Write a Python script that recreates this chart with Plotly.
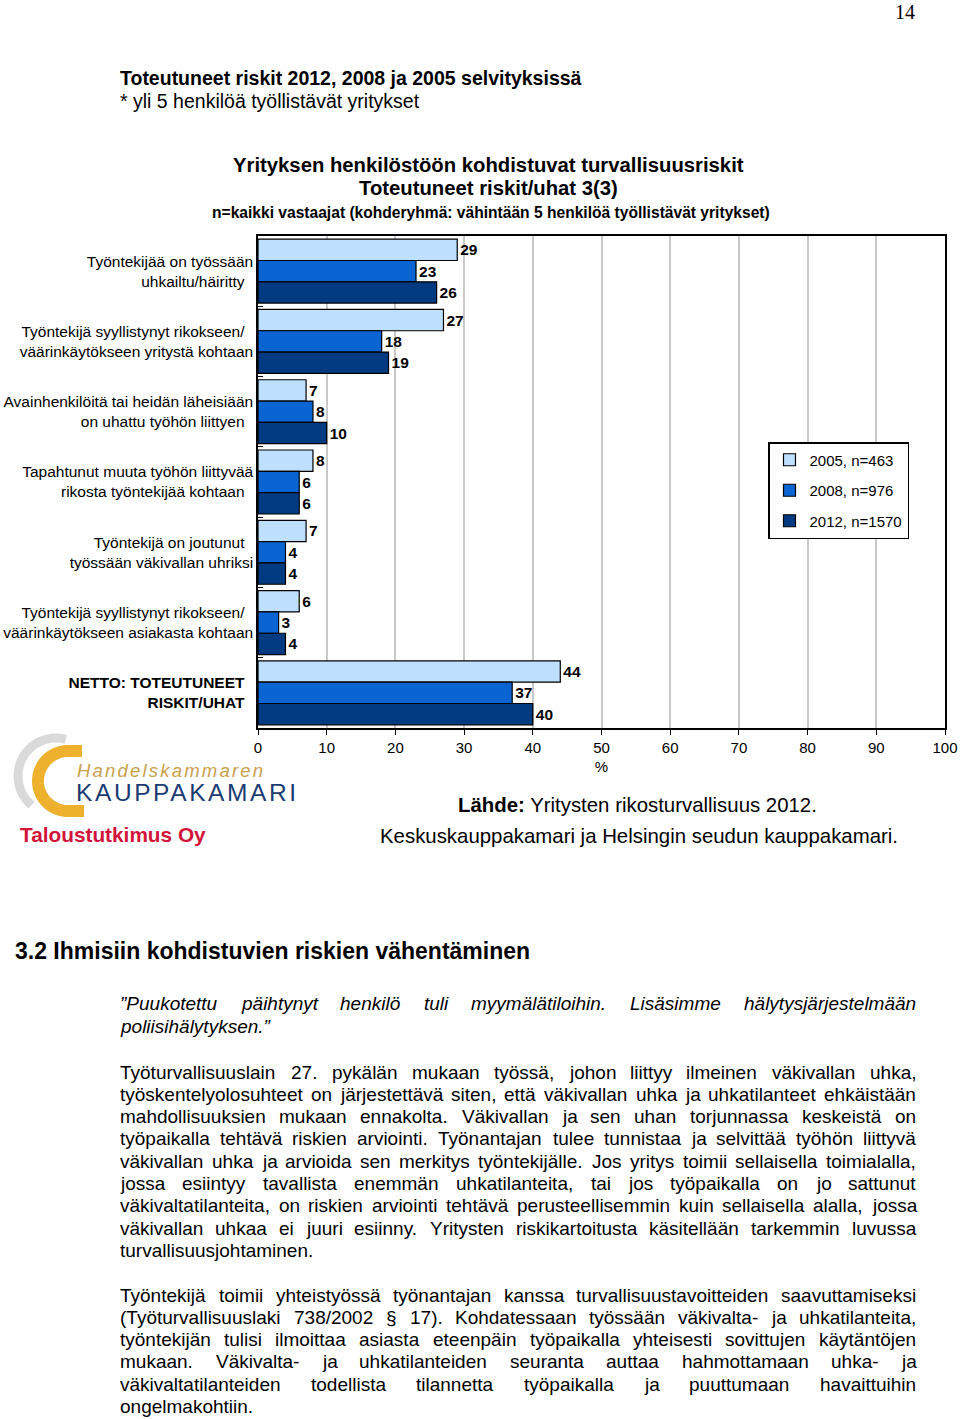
import math
import plotly.graph_objects as go

# ---------------- data ----------------
categories = [
    "Työntekijää on työssään uhkailtu/häiritty",
    "Työntekijä syyllistynyt rikokseen/ väärinkäytökseen yritystä kohtaan",
    "Avainhenkilöitä tai heidän läheisiään on uhattu työhön liittyen",
    "Tapahtunut muuta työhön liittyvää rikosta työntekijää kohtaan",
    "Työntekijä on joutunut työssään väkivallan uhriksi",
    "Työntekijä syyllistynyt rikokseen/ väärinkäytökseen asiakasta kohtaan",
    "NETTO: TOTEUTUNEET RISKIT/UHAT",
]
NB = "\u00a0"
tick_labels = [
    "Työntekijää on työssään<br>uhkailtu/häiritty" + NB * 2,
    "Työntekijä syyllistynyt rikokseen/" + NB * 2 + "<br>väärinkäytökseen yritystä kohtaan",
    "Avainhenkilöitä tai heidän läheisiään<br>on uhattu työhön liittyen" + NB * 2,
    "Tapahtunut muuta työhön liittyvää<br>rikosta työntekijää kohtaan" + NB * 2,
    "Työntekijä on joutunut" + NB * 2 + "<br>työssään väkivallan uhriksi",
    "Työntekijä syyllistynyt rikokseen/" + NB * 2 + "<br>väärinkäytökseen asiakasta kohtaan",
    "<b>NETTO: TOTEUTUNEET" + NB * 2 + "<br>RISKIT/UHAT" + NB * 2 + "</b>",
]
values_2005 = [29, 27, 7, 8, 7, 6, 44]
values_2008 = [23, 18, 8, 6, 4, 3, 37]
values_2012 = [26, 19, 10, 6, 4, 4, 40]
series_names = ["2005, n=463", "2008, n=976", "2012, n=1570"]
series_colors = ["#BFDFFF", "#0A64D2", "#003A80"]
x_ticks = list(range(0, 101, 10))

quote_lines = [
    "”Puukotettu päihtynyt henkilö tuli myymälätiloihin. Lisäsimme hälytysjärjestelmään",
    "poliisihälytyksen.”",
]
para1_lines = [
    "Työturvallisuuslain 27. pykälän mukaan työssä, johon liittyy ilmeinen väkivallan uhka,",
    "työskentelyolosuhteet on järjestettävä siten, että väkivallan uhka ja uhkatilanteet ehkäistään",
    "mahdollisuuksien mukaan ennakolta. Väkivallan ja sen uhan torjunnassa keskeistä on",
    "työpaikalla tehtävä riskien arviointi. Työnantajan tulee tunnistaa ja selvittää työhön liittyvä",
    "väkivallan uhka ja arvioida sen merkitys työntekijälle. Jos yritys toimii sellaisella toimialalla,",
    "jossa esiintyy tavallista enemmän uhkatilanteita, tai jos työpaikalla on jo sattunut",
    "väkivaltatilanteita, on riskien arviointi tehtävä perusteellisemmin kuin sellaisella alalla, jossa",
    "väkivallan uhkaa ei juuri esiinny. Yritysten riskikartoitusta käsitellään tarkemmin luvussa",
    "turvallisuusjohtaminen.",
]
para2_lines = [
    "Työntekijä toimii yhteistyössä työnantajan kanssa turvallisuustavoitteiden saavuttamiseksi",
    "(Työturvallisuuslaki 738/2002 § 17). Kohdatessaan työssään väkivalta- ja uhkatilanteita,",
    "työntekijän tulisi ilmoittaa asiasta eteenpäin työpaikalla yhteisesti sovittujen käytäntöjen",
    "mukaan. Väkivalta- ja uhkatilanteiden seuranta auttaa hahmottamaan uhka- ja",
    "väkivaltatilanteiden todellista tilannetta työpaikalla ja puuttumaan havaittuihin",
    "ongelmakohtiin.",
]

# ---------------- page geometry helpers ----------------
W, H = 960, 1419
FONT = "Liberation Sans, Arial, sans-serif"


def px(x):
    return x / W


def py(y):
    return 1 - y / H


fig = go.Figure()
for name, vals, col in zip(series_names, [values_2005, values_2008, values_2012], series_colors):
    fig.add_trace(go.Bar(
        y=categories, x=vals, name=name, orientation="h",
        marker=dict(color=col, line=dict(color="black", width=1.2)),
        text=vals, texttemplate="%{x}", textposition="outside",
        textfont=dict(family=FONT, size=15.5, color="black", weight="bold"),
        constraintext="none", cliponaxis=False,
        legendgroup=name,
    ))

annotations = []


def ann(text, x, y, size, color="black", anchor="left", family=FONT, bold=False, italic=False):
    if bold:
        text = "<b>" + text + "</b>"
    if italic:
        text = "<i>" + text + "</i>"
    annotations.append(dict(
        text=text, x=px(x), y=py(y), xref="paper", yref="paper",
        xanchor=anchor, yanchor="middle", showarrow=False,
        font=dict(family=family, size=size, color=color),
    ))


# Arial/Helvetica glyph widths (per 1000 em) for justification
WID = {}
for c in "abdeghnopqu0123456789äöå§":
    WID[c] = 556
for c in "ckvxyzs":
    WID[c] = 500
for c in "ijl":
    WID[c] = 222
for c in "ft .,/:;":
    WID[c] = 278
WID.update({"r": 333, "m": 833, "w": 722, "-": 333, "(": 333, ")": 333, "”": 333,
            "A": 667, "B": 667, "C": 722, "D": 722, "E": 667, "F": 611, "G": 778, "H": 722,
            "I": 278, "J": 500, "K": 667, "L": 556, "M": 833, "N": 722, "O": 778, "P": 667,
            "R": 722, "S": 667, "T": 611, "U": 722, "V": 667, "W": 944, "Y": 667, "Ä": 667})


def width(word, size):
    return sum(WID.get(c, 556) for c in word) * size / 1000.0


def justified(lines, y0, step, size, italic=False, left=118, right=914):
    for i, line in enumerate(lines):
        y = y0 + i * step
        if i == len(lines) - 1:
            ann(line, left, y, size, italic=italic)
            continue
        words = line.split(" ")
        ws = [width(w, size) for w in words]
        gap = (right - left - sum(ws)) / (len(words) - 1)
        x = left
        for w, wd in zip(words, ws):
            ann(w, x, y, size, italic=italic)
            x += wd + gap


# ---------------- page texts ----------------
ann("14", 905, 12, 20, family="Liberation Serif, Times New Roman, serif", anchor="center")
ann("Toteutuneet riskit 2012, 2008 ja 2005 selvityksissä", 118, 78, 19.5, bold=True)
ann("* yli 5 henkilöä työllistävät yritykset", 118, 101, 19.5)
ann("Yrityksen henkilöstöön kohdistuvat turvallisuusriskit", 488, 165, 20.3, anchor="center", bold=True)
ann("Toteutuneet riskit/uhat 3(3)", 488, 188, 20.3, anchor="center", bold=True)
ann("n=kaikki vastaajat (kohderyhmä: vähintään 5 henkilöä työllistävät yritykset)", 491, 212, 15.6,
    anchor="center", bold=True)

ann('<span style="letter-spacing:2.2px">Handelskammaren</span>', 75, 770, 18.5, color="#C9A04C", italic=True)
ann('<span style="letter-spacing:2.6px">KAUPPAKAMARI</span>', 74, 792, 24.5, color="#1B3C73")
ann("Taloustutkimus Oy", 18, 834, 20.8, color="#D2143A", bold=True)
ann("<b>Lähde:</b> Yritysten rikosturvallisuus 2012.", 637, 805, 20.4, anchor="center")
ann("Keskuskauppakamari ja Helsingin seudun kauppakamari.", 639, 836, 20.4, anchor="center")

ann("3.2 Ihmisiin kohdistuvien riskien vähentäminen", 13, 951, 23, bold=True)
justified(quote_lines, 1004, 22.3, 19, italic=True)
justified(para1_lines, 1072, 22.3, 19)
justified(para2_lines, 1295, 22.3, 19)

# ---------------- logo shapes ----------------
shapes = []


def arc_path(cx, cy, r, a0, a1, n=40):
    pts = []
    for k in range(n + 1):
        a = math.radians(a0 + (a1 - a0) * k / n)
        pts.append((cx + r * math.cos(a), cy - r * math.sin(a)))
    return pts


def to_path(pts):
    return "M " + " L ".join(f"{px(x):.5f},{py(y):.5f}" for x, y in pts)


gray = arc_path(56, 776, 38, 75, 230)
shapes.append(dict(type="path", xref="paper", yref="paper", path=to_path(gray),
                   line=dict(color="#DADADA", width=9), layer="below"))
gold = [(82, 751)] + arc_path(68, 781, 30, 90, 270) + [(84, 811)]
shapes.append(dict(type="path", xref="paper", yref="paper", path=to_path(gold),
                   line=dict(color="#EDB12E", width=12)))

fig.update_layout(
    width=W, height=H, autosize=False,
    margin=dict(l=0, r=0, t=0, b=0, autoexpand=False),
    paper_bgcolor="white", plot_bgcolor="white",
    barmode="group", bargap=0.09, bargroupgap=0,
    font=dict(family=FONT, size=15, color="black"),
    showlegend=True,
    legend=dict(
        x=px(768), y=py(442), xanchor="left", yanchor="top",
        bordercolor="black", borderwidth=1.5, bgcolor="white",
        font=dict(family=FONT, size=15, color="black"),
        traceorder="grouped", tracegroupgap=8, entrywidth=138,
    ),
    xaxis=dict(
        domain=[px(258), px(945)], range=[0, 100], automargin=False,
        tickvals=x_ticks, ticktext=[str(t) for t in x_ticks],
        ticks="outside", ticklen=5, tickcolor="black",
        showline=True, linecolor="black", linewidth=1.5, mirror=True,
        showgrid=True, gridcolor="#C8C8C8", gridwidth=1.5,
        zeroline=False, fixedrange=True,
        title=dict(text="%", font=dict(size=15), standoff=7),
        tickfont=dict(size=15),
    ),
    yaxis=dict(
        domain=[py(728), py(236)], automargin=False,
        autorange="reversed",
        tickvals=categories, ticktext=tick_labels,
        ticks="inside", ticklen=5, tickcolor="black", tickson="boundaries",
        showline=True, linecolor="black", linewidth=1.5, mirror=True,
        showgrid=False, zeroline=False,
        tickfont=dict(size=15.5),
    ),
    annotations=annotations,
    shapes=shapes,
)

fig.write_html(
    "out.html",
    config={"displayModeBar": False, "responsive": False},
    post_script="document.body.style.margin='0';document.body.style.overflow='hidden';",
)
